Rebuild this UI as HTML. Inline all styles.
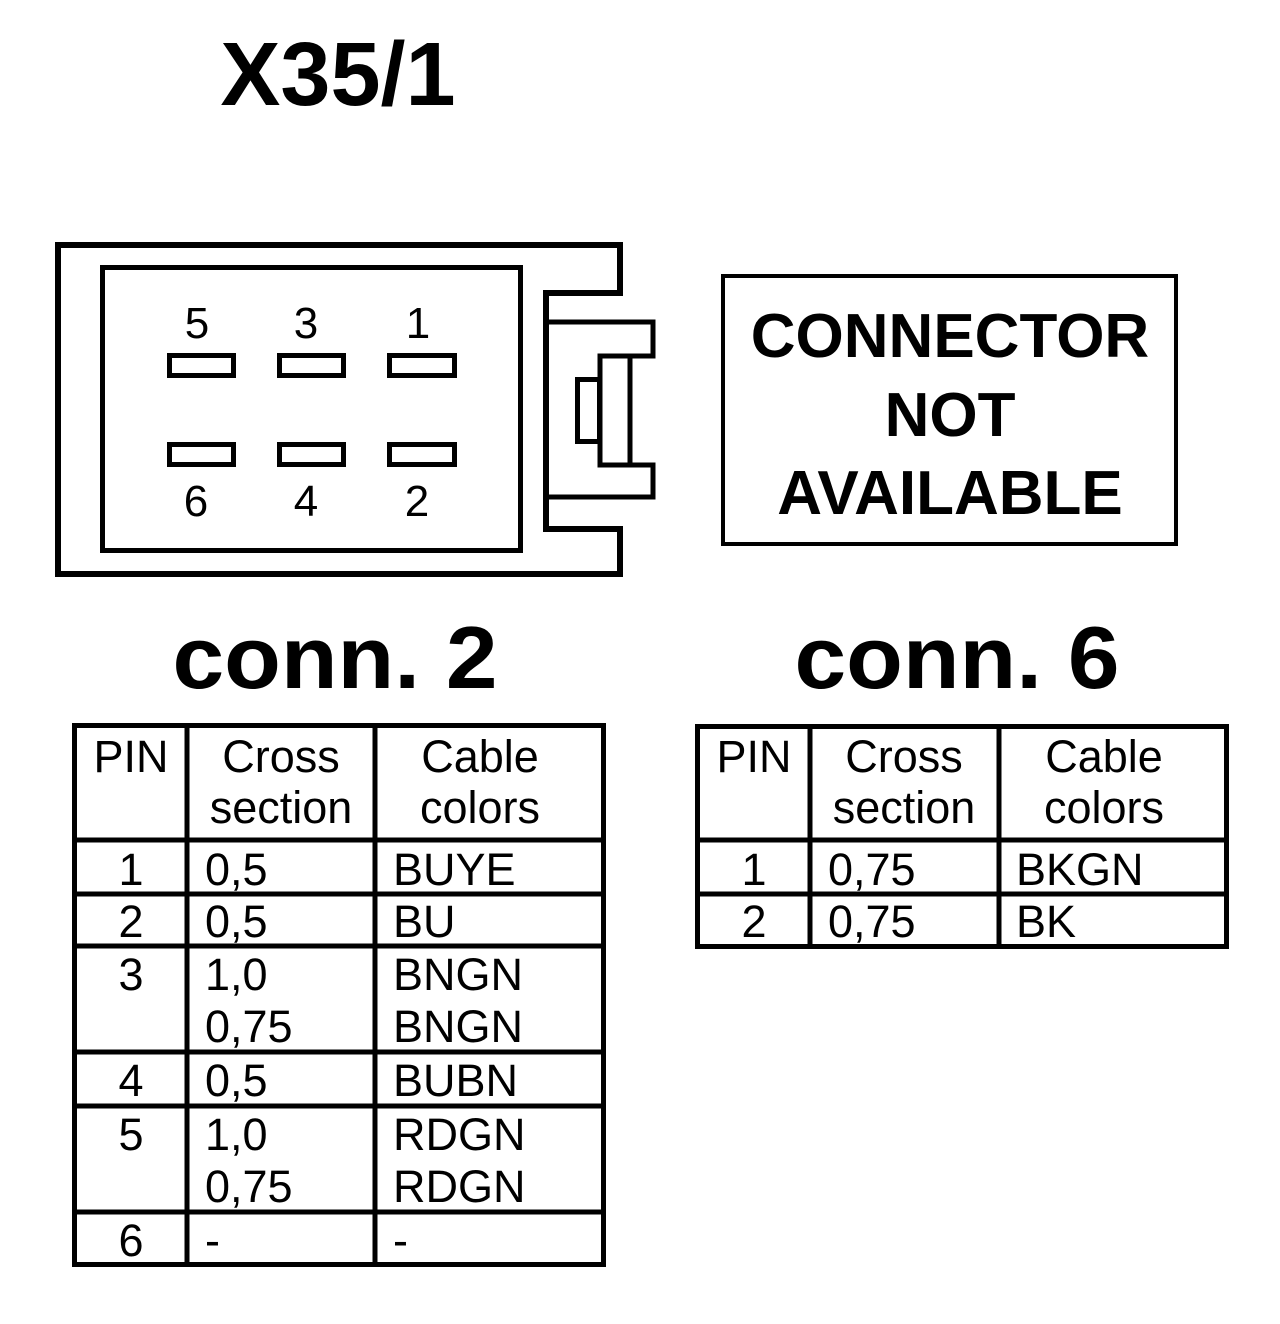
<!DOCTYPE html>
<html><head><meta charset="utf-8"><style>html,body{margin:0;padding:0;background:#fff}svg{display:block}</style></head>
<body>
<svg width="1280" height="1324" viewBox="0 0 1280 1324" xmlns="http://www.w3.org/2000/svg" font-family="Liberation Sans, Arial, sans-serif">
<rect width="1280" height="1324" fill="#fff"/>
<text x="338" y="105" font-size="90" font-weight="bold" text-anchor="middle">X35/1</text>
<g fill="none" stroke="#000">
<path d="M58,245 H620 V293 H546 V529 H620 V574 H58 Z" stroke-width="6"/>
<rect x="102.5" y="267.5" width="418" height="283" stroke-width="5"/>
<path d="M546,322 H653 V356 H600 V465 H653 V497 H546" stroke-width="5"/>
<line x1="630" y1="356" x2="630" y2="465" stroke-width="5"/>
<rect x="577.5" y="379.5" width="22" height="62" stroke-width="5"/>
<g stroke-width="5">
<rect x="169.5" y="355.5" width="64" height="20"/>
<rect x="279.5" y="355.5" width="64" height="20"/>
<rect x="389.5" y="355.5" width="65" height="20"/>
<rect x="169.5" y="444.5" width="64" height="20"/>
<rect x="279.5" y="444.5" width="64" height="20"/>
<rect x="389.5" y="444.5" width="65" height="20"/>
</g>
<rect x="723" y="276" width="453" height="268" stroke-width="4"/>
</g>
<g font-size="44" text-anchor="middle">
<text x="197" y="338">5</text><text x="306" y="338">3</text><text x="418" y="338">1</text>
<text x="196" y="516">6</text><text x="306" y="516">4</text><text x="417" y="516">2</text>
</g>
<g font-size="62" font-weight="bold" text-anchor="middle">
<text x="950" y="357">CONNECTOR</text>
<text x="950" y="436">NOT</text>
<text x="950" y="514">AVAILABLE</text>
</g>
<text x="335" y="688" font-size="88" font-weight="bold" text-anchor="middle" textLength="325" lengthAdjust="spacingAndGlyphs">conn. 2</text>
<text x="957" y="688" font-size="88" font-weight="bold" text-anchor="middle" textLength="325" lengthAdjust="spacingAndGlyphs">conn. 6</text>
<!-- table 1 -->
<g fill="none" stroke="#000" stroke-width="5">
<rect x="74.5" y="725.5" width="529" height="539"/>
<line x1="187" y1="725" x2="187" y2="1265"/>
<line x1="375" y1="725" x2="375" y2="1265"/>
<line x1="74" y1="840" x2="604" y2="840"/>
<line x1="74" y1="894" x2="604" y2="894"/>
<line x1="74" y1="946" x2="604" y2="946"/>
<line x1="74" y1="1052" x2="604" y2="1052"/>
<line x1="74" y1="1106" x2="604" y2="1106"/>
<line x1="74" y1="1212" x2="604" y2="1212"/>
</g>
<g font-size="45">
<text x="131" y="772" text-anchor="middle">PIN</text>
<text x="281" y="772" text-anchor="middle">Cross</text>
<text x="281" y="823" text-anchor="middle">section</text>
<text x="480" y="772" text-anchor="middle">Cable</text>
<text x="480" y="823" text-anchor="middle">colors</text>
<g text-anchor="middle">
<text x="131" y="885">1</text><text x="131" y="937">2</text><text x="131" y="990">3</text>
<text x="131" y="1096">4</text><text x="131" y="1150">5</text><text x="131" y="1256">6</text>
</g>
<text x="205" y="885">0,5</text><text x="393" y="885">BUYE</text>
<text x="205" y="937">0,5</text><text x="393" y="937">BU</text>
<text x="205" y="990">1,0</text><text x="393" y="990">BNGN</text>
<text x="205" y="1042">0,75</text><text x="393" y="1042">BNGN</text>
<text x="205" y="1096">0,5</text><text x="393" y="1096">BUBN</text>
<text x="205" y="1150">1,0</text><text x="393" y="1150">RDGN</text>
<text x="205" y="1202">0,75</text><text x="393" y="1202">RDGN</text>
<text x="205" y="1256">-</text><text x="393" y="1256">-</text>
</g>
<!-- table 2 -->
<g fill="none" stroke="#000" stroke-width="5">
<rect x="697.5" y="726.5" width="529" height="220"/>
<line x1="810" y1="726" x2="810" y2="947"/>
<line x1="999" y1="726" x2="999" y2="947"/>
<line x1="697" y1="840" x2="1227" y2="840"/>
<line x1="697" y1="894" x2="1227" y2="894"/>
</g>
<g font-size="45">
<text x="754" y="772" text-anchor="middle">PIN</text>
<text x="904" y="772" text-anchor="middle">Cross</text>
<text x="904" y="823" text-anchor="middle">section</text>
<text x="1104" y="772" text-anchor="middle">Cable</text>
<text x="1104" y="823" text-anchor="middle">colors</text>
<text x="754" y="885" text-anchor="middle">1</text><text x="754" y="937" text-anchor="middle">2</text>
<text x="828" y="885">0,75</text><text x="1016" y="885">BKGN</text>
<text x="828" y="937">0,75</text><text x="1016" y="937">BK</text>
</g>
</svg>
</body></html>
